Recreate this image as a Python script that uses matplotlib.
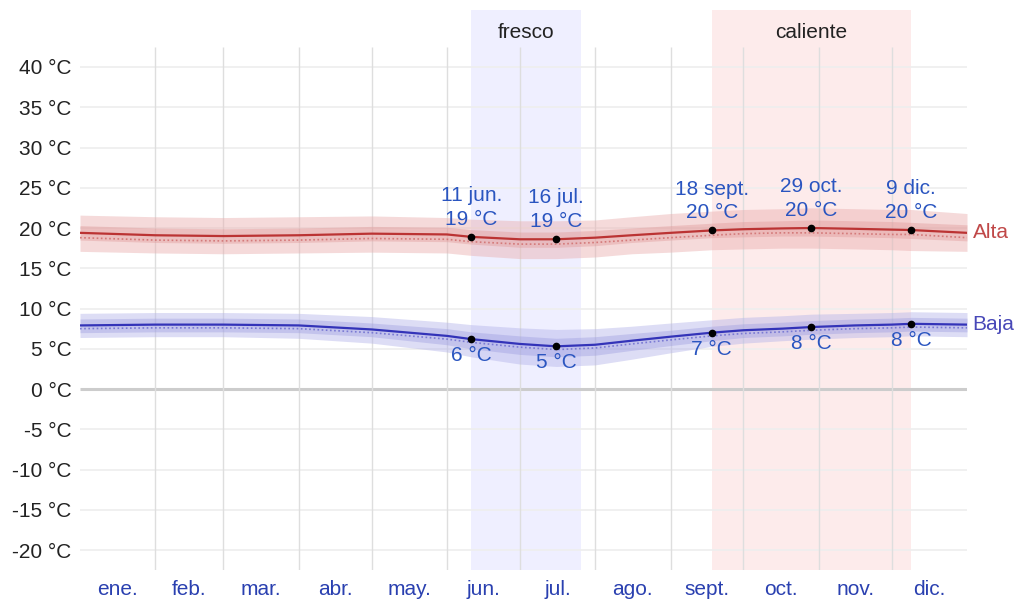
import matplotlib.pyplot as plt

plt.rcParams['font.family'] = ['Liberation Sans', 'DejaVu Sans']

# day of year for each reading
days = [0, 31, 59, 90, 120, 151, 161, 181, 196, 212, 227, 243, 260, 273, 289, 301, 319, 334, 342, 365]

# high temperatures (°C)
hi_avg = [19.4, 19.1, 19.0, 19.1, 19.3, 19.2, 18.9, 18.6, 18.6, 18.8, 19.1, 19.4, 19.7, 19.85, 19.95, 20.0, 19.9, 19.8, 19.75, 19.4]
hi_p90 = [21.6, 21.4, 21.3, 21.4, 21.5, 21.3, 21.1, 20.9, 20.9, 21.0, 21.4, 21.8, 22.1, 22.3, 22.4, 22.5, 22.4, 22.3, 22.3, 21.8]
hi_p75 = [20.3, 20.0, 19.9, 20.0, 20.2, 20.1, 19.8, 19.5, 19.5, 19.7, 20.0, 20.3, 20.6, 20.8, 20.9, 21.0, 20.9, 20.8, 20.7, 20.4]
hi_p25 = [18.5, 18.2, 18.1, 18.2, 18.4, 18.3, 18.0, 17.6, 17.6, 17.8, 18.2, 18.5, 18.8, 18.9, 19.0, 19.0, 18.9, 18.8, 18.7, 18.4]
hi_p10 = [17.1, 16.9, 16.8, 16.9, 17.0, 16.9, 16.6, 16.2, 16.2, 16.4, 16.8, 17.0, 17.3, 17.4, 17.5, 17.5, 17.4, 17.3, 17.2, 17.1]
hi_feels = [18.8, 18.5, 18.4, 18.5, 18.7, 18.6, 18.3, 18.0, 18.0, 18.2, 18.5, 18.8, 19.1, 19.3, 19.4, 19.4, 19.3, 19.2, 19.2, 18.8]

# low temperatures (°C)
lo_avg = [7.9, 8.0, 8.0, 7.9, 7.4, 6.6, 6.2, 5.6, 5.3, 5.5, 6.0, 6.5, 7.0, 7.3, 7.5, 7.7, 7.9, 8.0, 8.1, 8.0]
lo_p90 = [9.4, 9.5, 9.5, 9.4, 9.0, 8.3, 8.0, 7.6, 7.4, 7.5, 7.8, 8.2, 8.6, 8.9, 9.1, 9.3, 9.4, 9.5, 9.6, 9.5]
lo_p75 = [8.7, 8.8, 8.8, 8.7, 8.2, 7.5, 7.1, 6.6, 6.3, 6.5, 6.9, 7.3, 7.8, 8.1, 8.3, 8.5, 8.7, 8.8, 8.9, 8.8]
lo_p25 = [7.0, 7.1, 7.1, 7.0, 6.5, 5.5, 5.0, 4.3, 4.0, 4.2, 4.8, 5.4, 6.0, 6.4, 6.6, 6.8, 7.0, 7.1, 7.2, 7.1]
lo_p10 = [6.4, 6.5, 6.5, 6.3, 5.7, 4.6, 4.0, 3.1, 2.8, 3.0, 3.7, 4.5, 5.3, 5.7, 6.0, 6.2, 6.4, 6.5, 6.6, 6.5]
lo_feels = [7.5, 7.6, 7.6, 7.5, 7.0, 6.2, 5.8, 5.2, 4.9, 5.1, 5.6, 6.1, 6.6, 6.9, 7.1, 7.3, 7.5, 7.6, 7.7, 7.6]

month_starts = [0, 31, 59, 90, 120, 151, 181, 212, 243, 273, 304, 334, 365]
month_labels = ['ene.', 'feb.', 'mar.', 'abr.', 'may.', 'jun.', 'jul.', 'ago.', 'sept.', 'oct.', 'nov.', 'dic.']

# seasons
cool_season = (161, 206)
hot_season = (260, 342)

# marked extremes
hi_marks_day = [161, 196, 260, 301, 342]
hi_marks_label = ['11 jun.\n19 °C', '16 jul.\n19 °C', '18 sept.\n20 °C', '29 oct.\n20 °C', '9 dic.\n20 °C']
lo_marks_day = [161, 196, 260, 301, 342]
lo_marks_label = ['6 °C', '5 °C', '7 °C', '8 °C', '8 °C']

fig = plt.figure(figsize=(10.17, 5.99), dpi=100)
ax = fig.add_axes([80 / 1017, 29 / 599, 887 / 1017, 560 / 599])
ax.set_xlim(0, 365)
ax.set_ylim(-22.48, 47.08)
for s in ax.spines.values():
    s.set_visible(False)

# season bands
ax.axvspan(*cool_season, color='#efefff', zorder=0, lw=0)
ax.axvspan(*hot_season, color='#fdebeb', zorder=0, lw=0)
ax.text(sum(cool_season) / 2, 44.3, 'fresco', ha='center', va='center', fontsize=15, color='#222222')
ax.text(sum(hot_season) / 2, 44.3, 'caliente', ha='center', va='center', fontsize=15, color='#222222')

# grid
for t in range(-20, 45, 5):
    if t == 0:
        ax.hlines(t, 0, 365, color='#cccccc', lw=2.2, zorder=1)
    else:
        ax.hlines(t, 0, 365, color='#eeeeee', lw=1.2, zorder=1)
ax.vlines(month_starts[1:-1], -22.48, 42.5, color='#dedede', lw=1.0, zorder=1)

# highs
ax.fill_between(days, hi_p10, hi_p90, color='#eaaeae', alpha=0.45, lw=0, zorder=2)
ax.fill_between(days, hi_p25, hi_p75, color='#e09898', alpha=0.4, lw=0, zorder=2)
ax.plot(days, hi_feels, color='#d47a7a', lw=1.2, ls=(0, (1, 1.5)), zorder=3)
ax.plot(days, hi_avg, color='#bb3333', lw=1.6, zorder=3)

# lows
ax.fill_between(days, lo_p10, lo_p90, color='#b4b4ea', alpha=0.45, lw=0, zorder=2)
ax.fill_between(days, lo_p25, lo_p75, color='#9c9ce0', alpha=0.4, lw=0, zorder=2)
ax.plot(days, lo_feels, color='#7a7ad4', lw=1.2, ls=(0, (1, 1.5)), zorder=3)
ax.plot(days, lo_avg, color='#3333b8', lw=1.6, zorder=3)

# marked points
for d, lab in zip(hi_marks_day, hi_marks_label):
    v = hi_avg[days.index(d)]
    ax.plot(d, v, 'o', color='black', ms=4.5, zorder=5)
    ax.annotate(lab, (d, v), xytext=(0, 6), textcoords='offset points', ha='center', va='bottom',
                fontsize=15, color='#2a55c0', linespacing=1.3, zorder=6)
for d, lab in zip(lo_marks_day, lo_marks_label):
    v = lo_avg[days.index(d)]
    ax.plot(d, v, 'o', color='black', ms=4.5, zorder=5)
    ax.annotate(lab, (d, v), xytext=(0, -5), textcoords='offset points', ha='center', va='top',
                fontsize=15, color='#2a55c0', zorder=6)

ax.annotate('Alta', (365, hi_avg[-1]), xytext=(4, 0), textcoords='offset points', ha='left', va='center',
            fontsize=15, color='#c04848', annotation_clip=False)
ax.annotate('Baja', (365, lo_avg[-1]), xytext=(4, 0), textcoords='offset points', ha='left', va='center',
            fontsize=15, color='#4848b8', annotation_clip=False)

# axes ticks
ax.set_yticks(range(-20, 45, 5))
ax.set_yticklabels([f'{t} °C' for t in range(-20, 45, 5)], fontsize=15, color='#222222')
ax.tick_params(axis='y', length=0, pad=6)
ax.set_xticks([(month_starts[i] + month_starts[i + 1]) / 2 for i in range(12)])
ax.set_xticklabels(month_labels, fontsize=15, color='#2a40b0')
ax.tick_params(axis='x', length=0, pad=7)

fig.savefig('out.png', dpi=100)
